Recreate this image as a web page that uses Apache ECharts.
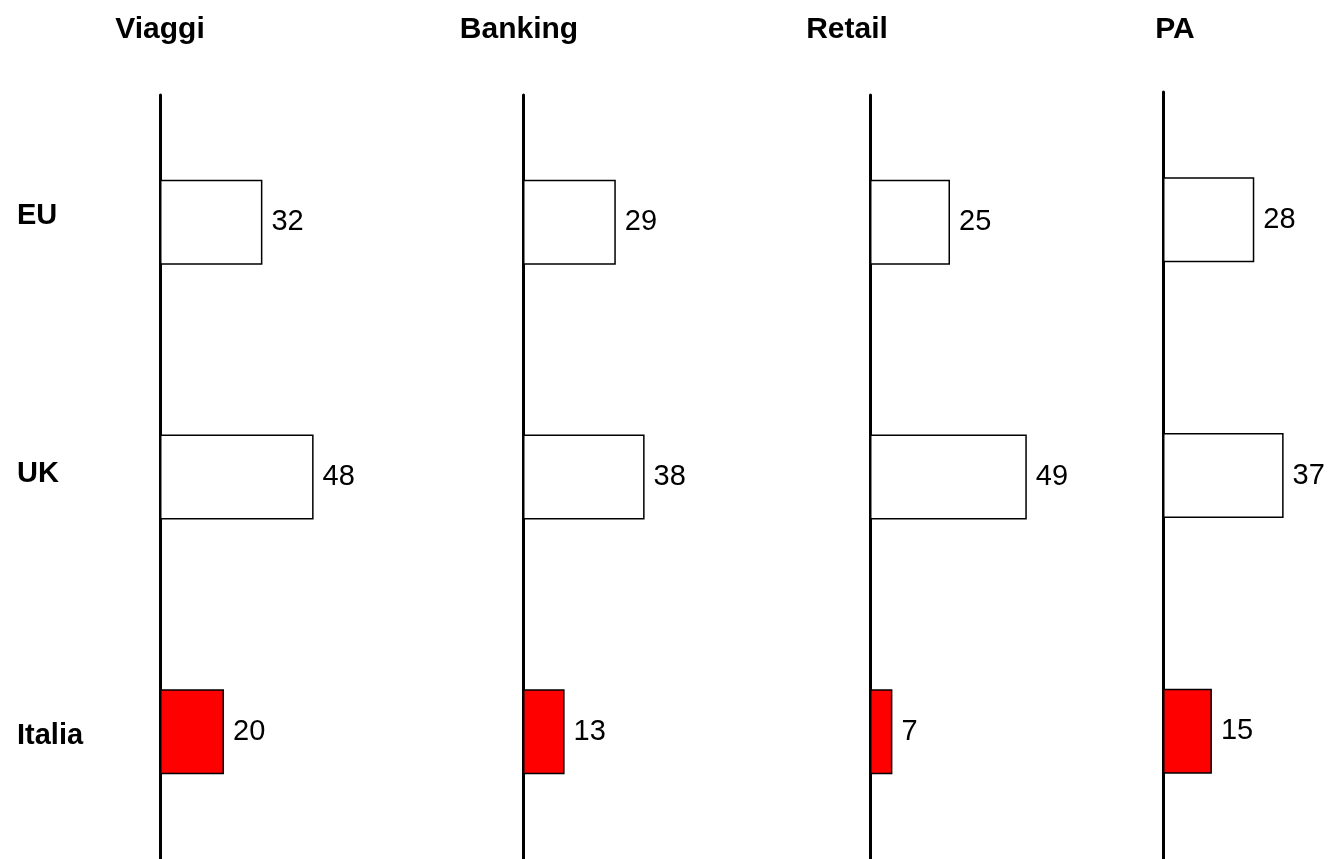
<!DOCTYPE html>
<html>
<head>
<meta charset="utf-8">
<script src="https://cdn.jsdelivr.net/npm/echarts@6/dist/echarts.min.js"></script>
<style>
html,body{margin:0;padding:0;background:#fff;}
#c{width:1331px;height:859px;}
</style>
</head>
<body>
<div id="c"></div>
<script>
var categories = ['EU', 'UK', 'Italia'];
var panelTitles = ['Viaggi', 'Banking', 'Retail', 'PA'];
var viaggi = [32, 48, 20];
var banking = [29, 38, 13];
var retail = [25, 49, 7];
var pa = [28, 37, 15];
var barColors = ['#ffffff', '#ffffff', '#ff0000'];

var panelValues = [viaggi, banking, retail, pa];
var gridLeft = [160, 523, 870, 1163];
var gridTop = [95, 95, 95, 92];
var gridWidth = [160, 160, 160, 163];
var titleX = [155, 514, 842, 1170];
var labelShift = [-6, -3, 4];
var FONT = '"Liberation Sans", Arial, Helvetica, sans-serif';

var chart = echarts.init(document.getElementById('c'), null, {renderer: 'canvas'});

var rich = {};
labelShift.forEach(function (s, k) {
  rich['s' + k] = {
    fontFamily: FONT, fontWeight: 'bold', fontSize: 29, color: '#000', align: 'left',
    padding: s < 0 ? [0, 0, -2 * s, 0] : [2 * s, 0, 0, 0]
  };
});

var grids = [], xAxes = [], yAxes = [], series = [], titles = [];
for (var i = 0; i < 4; i++) {
  grids.push({left: gridLeft[i], top: gridTop[i], width: gridWidth[i], height: 859 - gridTop[i],
    containLabel: false, outerBoundsMode: 'none'});
  xAxes.push({type: 'value', gridIndex: i, min: 0, max: 50, show: false});
  yAxes.push({
    type: 'category', gridIndex: i, inverse: true,
    data: categories,
    boundaryGap: true,
    axisLine: {show: true, lineStyle: {color: '#000', width: 3}},
    axisTick: {show: false},
    splitLine: {show: false},
    axisLabel: i === 0 ? {
      show: true, align: 'left', margin: 143,
      fontFamily: FONT, fontWeight: 'bold', fontSize: 29, color: '#000',
      formatter: function (v, idx) { return '{s' + idx + '|' + v + '}'; },
      rich: rich
    } : {show: false}
  });
  series.push({
    type: 'bar', xAxisIndex: i, yAxisIndex: i,
    barWidth: 85,
    data: panelValues[i].map(function (v, k) {
      return {value: v, itemStyle: {color: barColors[k], borderColor: '#000', borderWidth: 1.5}};
    }),
    label: {show: true, position: 'right', distance: 9, fontFamily: FONT, fontSize: 29, color: '#000'},
    animation: false
  });
  titles.push({
    text: panelTitles[i], left: titleX[i], top: 10, textAlign: 'center',
    textStyle: {fontFamily: FONT, fontWeight: 'bold', fontSize: 30, color: '#000'}
  });
}

chart.setOption({
  animation: false,
  backgroundColor: '#fff',
  title: titles,
  grid: grids,
  xAxis: xAxes,
  yAxis: yAxes,
  series: series
});
</script>
</body>
</html>
